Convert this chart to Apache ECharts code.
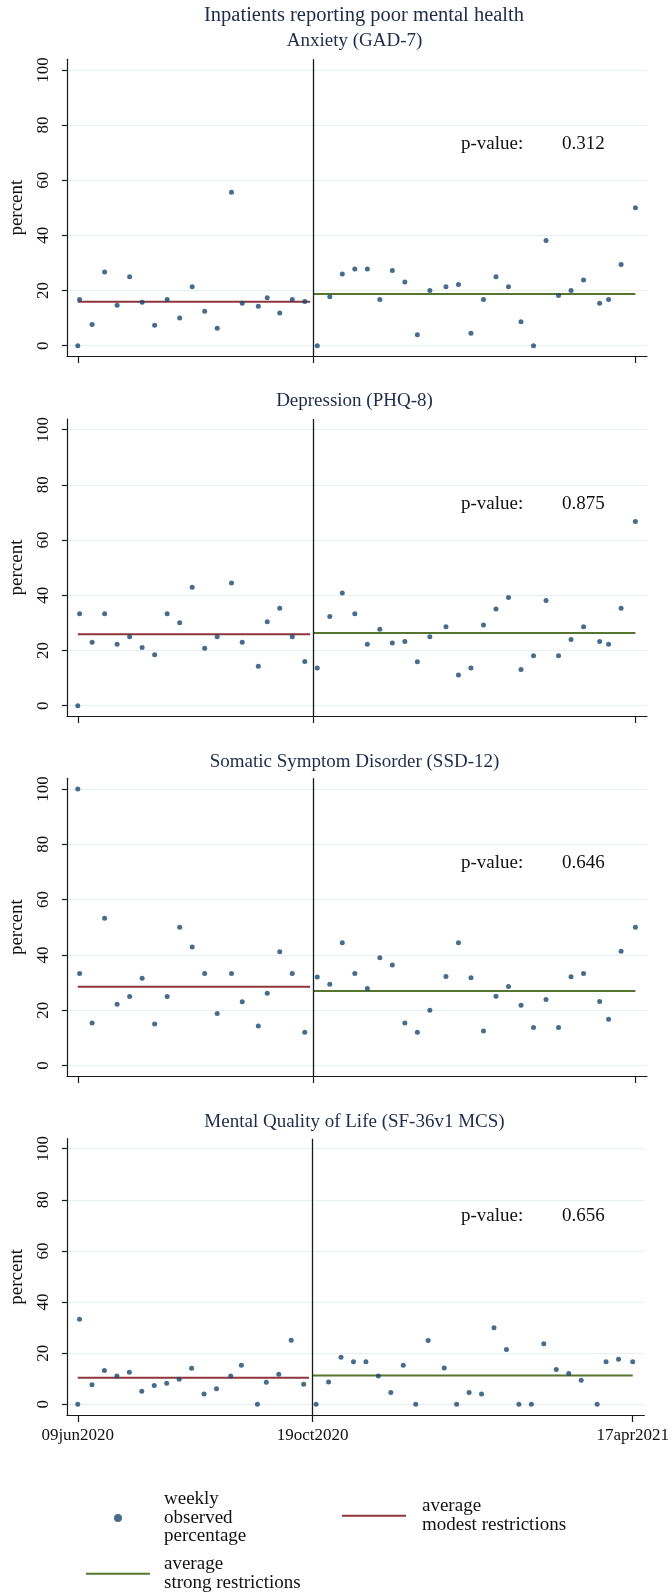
<!DOCTYPE html>
<html>
<head>
<meta charset="utf-8">
<script src="https://cdn.jsdelivr.net/npm/echarts@6/dist/echarts.min.js"></script>
<style>html,body{margin:0;padding:0;background:#fff}#c{width:672px;height:1595px}</style>
</head>
<body>
<div id="c"></div>
<script>
// ---------------- data ----------------
const mainTitle = 'Inpatients reporting poor mental health';
const panelTitles = ['Anxiety (GAD-7)', 'Depression (PHQ-8)', 'Somatic Symptom Disorder (SSD-12)', 'Mental Quality of Life (SF-36v1 MCS)'];
const weekDates = [
  '2020-06-09','2020-06-10','2020-06-17','2020-06-24','2020-07-01','2020-07-08','2020-07-15','2020-07-22','2020-07-29','2020-08-05',
  '2020-08-12','2020-08-19','2020-08-26','2020-09-03','2020-09-09','2020-09-18','2020-09-23','2020-09-30','2020-10-07','2020-10-14',
  '2020-10-21','2020-10-28','2020-11-04','2020-11-11','2020-11-18','2020-11-25','2020-12-02','2020-12-09','2020-12-16','2020-12-23',
  '2021-01-01','2021-01-08','2021-01-15','2021-01-22','2021-01-29','2021-02-05','2021-02-12','2021-02-19','2021-02-26','2021-03-05',
  '2021-03-12','2021-03-19','2021-03-28','2021-04-02','2021-04-09','2021-04-17'
];
const anxiety = [0,16.7,7.7,26.7,14.7,25,15.7,7.4,16.7,10,21.4,12.5,6.3,55.6,15.4,14.3,17.4,11.8,16.7,16,
  0,17.7,26.0,27.8,27.8,16.7,27.3,23.1,4.0,20.0,21.4,22.2,4.5,16.7,25.0,21.4,8.7,0,38.1,18.2,20.0,23.8,15.4,16.7,29.4,50.0];
const depression = [0,33.3,23.0,33.3,22.2,25.0,21.1,18.4,33.3,30.0,42.9,20.8,25.0,44.4,23.0,14.3,30.4,35.3,25.0,16.0,
  13.6,32.3,40.8,33.3,22.2,27.7,22.7,23.2,15.9,25.0,28.6,11.1,13.6,29.2,35.0,39.2,13.1,18.1,38.1,18.1,24.0,28.6,23.2,22.2,35.3,66.7];
const somatic = [100,33.3,15.4,53.3,22.2,25.0,31.6,15.0,25.0,50.0,42.9,33.3,18.8,33.3,23.1,14.3,26.2,41.2,33.3,12.1,
  32.0,29.4,44.4,33.3,27.9,39.0,36.4,15.4,12.1,20.0,32.2,44.4,31.8,12.5,25.1,28.6,21.8,13.8,23.9,13.8,32.1,33.3,23.2,16.8,41.3,50.0];
const mentalQol = [0,33.3,7.6,13.2,11.1,12.5,5.1,7.3,8.2,9.8,14.1,4.0,6.1,11.1,15.3,0,8.6,11.7,25.0,7.8,
  0,8.7,18.4,16.6,16.6,11.1,4.6,15.3,0,24.9,14.2,0,4.6,4.0,29.9,21.4,0,0,23.7,13.6,12.0,9.4,0,16.6,17.6,16.6];
const modestAvg = [15.9, 25.9, 28.5, 10.4];
const strongAvg = [18.7, 26.3, 27.0, 11.3];
const modestSpan = ['2020-06-09', '2020-10-17'];
const strongSpan = ['2020-10-19', '2021-04-17'];
const cutoffDate = '2020-10-19';
const pValues = ['0.312', '0.875', '0.646', '0.656'];
const xTickDates = ['2020-06-09', '2020-10-19', '2021-04-17'];
const yTicks = [0, 20, 40, 60, 80, 100];
const nameDots = 'weekly\nobserved\npercentage';
const nameModest = 'average\nmodest restrictions';
const nameStrong = 'average\nstrong restrictions';

// ---------------- helpers / layout ----------------
const FONT = '"Liberation Serif","Times New Roman",serif';
const NAVY = '#1a476f', MAROON = '#90353b', GREEN = '#55752f';
const TITLE_COL = '#1f2b4a', TEXT_COL = '#111111';
const DAY = 86400000;
const MONTHS = ['jan','feb','mar','apr','may','jun','jul','aug','sep','oct','nov','dec'];
function utc(s) { const p = s.split('-').map(Number); return Date.UTC(p[0], p[1] - 1, p[2]); }
const EPOCH = utc(xTickDates[0]);
// day number relative to the first tick date (x axis is a day-count value axis)
function dayNum(s) { return Math.round((utc(s) - EPOCH) / DAY); }
function fmt(v) { const d = new Date(EPOCH + Math.round(v) * DAY);
  return String(d.getUTCDate()).padStart(2, '0') + MONTHS[d.getUTCMonth()] + d.getUTCFullYear(); }

const panelData = [anxiety, depression, somatic, mentalQol];
const panels = [
  { top: 59.3, height: 296.7, min: -3.75, max: 103.85, titleTop: 32, pY: 145 },
  { top: 419, height: 297, min: -3.75, max: 103.85, titleTop: 392, pY: 505 },
  { top: 778.3, height: 297.7, min: -3.75, max: 103.85, titleTop: 752.3, pY: 864 },
  { top: 1138.7, height: 276.3, min: -4.2, max: 103.9, titleTop: 1112.3, pY: 1216.7 }
];
const xMin = -6.1, xMax = 318.5;
const xTickVals = xTickDates.map(dayNum);

const grids = [], xAxes = [], yAxes = [], series = [], titles = [], graphics = [];
titles.push({ text: mainTitle, left: 364, top: 5.5, textAlign: 'center', padding: 0,
  textStyle: { fontFamily: FONT, fontSize: 20.5, fontWeight: 'normal', color: TITLE_COL } });

panels.forEach((p, i) => {
  grids.push({ left: 62, right: 25, top: p.top, height: p.height });
  const last = i === panels.length - 1;
  xAxes.push({
    type: 'value', gridIndex: i, min: xMin, max: xMax,
    axisLine: { show: true, onZero: false, lineStyle: { color: '#1a1a1a', width: 1.2 } },
    axisTick: { show: true, length: 7, lineStyle: { color: '#1a1a1a', width: 1.2 }, customValues: xTickVals },
    axisLabel: { show: last, customValues: xTickVals, formatter: fmt, margin: 12,
      fontFamily: FONT, fontSize: 17, color: TEXT_COL },
    splitLine: { show: false }
  });
  yAxes.push({
    type: 'value', gridIndex: i, min: p.min, max: p.max,
    name: 'percent', nameLocation: 'middle', nameGap: 31,
    nameTextStyle: { fontFamily: FONT, fontSize: 19, color: TEXT_COL },
    axisLine: { show: true, onZero: false, lineStyle: { color: '#1a1a1a', width: 1.2 } },
    axisTick: { show: true, length: 5, lineStyle: { color: '#1a1a1a', width: 1.2 }, customValues: yTicks },
    axisLabel: { rotate: 90, margin: 15, customValues: yTicks, fontFamily: FONT, fontSize: 17, color: TEXT_COL },
    splitLine: { show: true, lineStyle: { color: '#e6eff2', width: 1.2 } }
  });
  titles.push({ text: panelTitles[i], left: 354.5, top: p.titleTop, textAlign: 'center', padding: 0,
    textStyle: { fontFamily: FONT, fontSize: 19, fontWeight: 'normal', color: TITLE_COL } });
  const vals = panelData[i];
  series.push({
    name: nameDots, type: 'scatter', xAxisIndex: i, yAxisIndex: i, symbolSize: 5,
    itemStyle: { color: NAVY }, z: 5,
    data: weekDates.map((d, j) => [dayNum(d), vals[j]]),
    markLine: { silent: true, symbol: ['none', 'none'], label: { show: false },
      lineStyle: { color: '#1a1a1a', width: 1.3, type: 'solid' },
      data: [{ xAxis: dayNum(cutoffDate) }] }
  });
  series.push({
    name: nameModest, type: 'line', xAxisIndex: i, yAxisIndex: i, symbol: 'none',
    lineStyle: { color: MAROON, width: 2 }, itemStyle: { color: MAROON }, z: 3,
    data: modestSpan.map(d => [dayNum(d), modestAvg[i]])
  });
  series.push({
    name: nameStrong, type: 'line', xAxisIndex: i, yAxisIndex: i, symbol: 'none',
    lineStyle: { color: GREEN, width: 2 }, itemStyle: { color: GREEN }, z: 3,
    data: strongSpan.map(d => [dayNum(d), strongAvg[i]])
  });
  graphics.push({ type: 'text', left: 461, top: p.pY - 10, style: { text: 'p-value:', fontFamily: FONT, fontSize: 19, fill: TEXT_COL } });
  graphics.push({ type: 'text', left: 562, top: p.pY - 10, style: { text: pValues[i], fontFamily: FONT, fontSize: 19, fill: TEXT_COL } });
});

const legendText = { fontFamily: FONT, fontSize: 19, lineHeight: 18.5, color: TEXT_COL };
const option = {
  animation: false,
  backgroundColor: '#ffffff',
  title: titles,
  grid: grids, xAxis: xAxes, yAxis: yAxes, series: series,
  graphic: graphics,
  legend: [
    { data: [{ name: nameDots, icon: 'circle' }], left: 114, top: 1490, padding: 0, itemWidth: 8, itemHeight: 8,
      selectedMode: false, textStyle: Object.assign({ padding: [0, 0, 0, 37] }, legendText) },
    { data: [{ name: nameModest, icon: 'rect' }], left: 342, top: 1497, padding: 0, itemWidth: 64, itemHeight: 2,
      selectedMode: false, textStyle: Object.assign({ padding: [0, 0, 0, 11] }, legendText) },
    { data: [{ name: nameStrong, icon: 'rect' }], left: 86, top: 1555, padding: 0, itemWidth: 64, itemHeight: 2,
      selectedMode: false, textStyle: Object.assign({ padding: [0, 0, 0, 9] }, legendText) }
  ]
};
const chart = echarts.init(document.getElementById('c'), null, { renderer: 'canvas' });
chart.setOption(option);
</script>
</body>
</html>
